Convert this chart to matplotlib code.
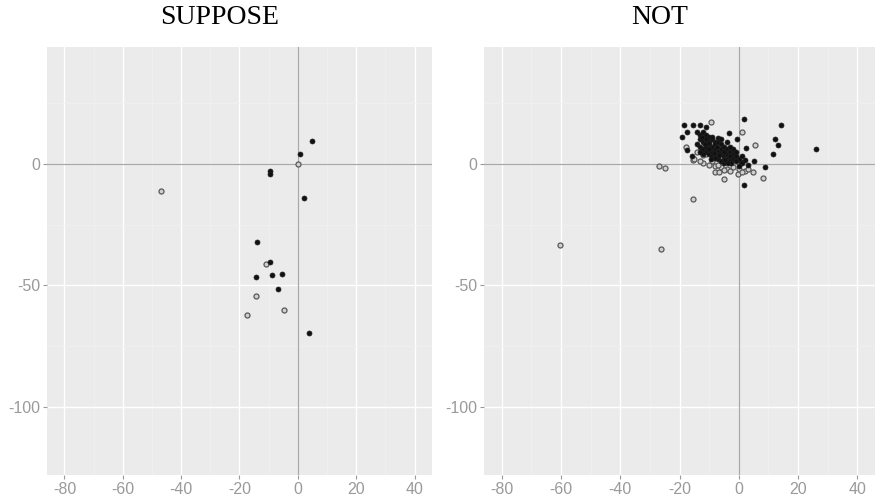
import numpy as np
import matplotlib.pyplot as plt

plt.rcParams['axes.unicode_minus'] = False
plt.rcParams['font.family'] = ['Liberation Sans', 'DejaVu Sans']

# SUPPOSE panel: filled (black) and open (grey) points
sup_fill_x = [4.8, 0.9, -9.4, -9.4, 2.2, -14.0, -9.4, -14.4, -8.8, -5.4, -6.8, 3.8]
sup_fill_y = [9.2, 4.1, -2.9, -4.1, -13.9, -32.2, -40.6, -46.5, -45.7, -45.5, -51.7, -69.7]
sup_open_x = [0.0, -47.0, -10.9, -14.5, -17.5, -4.8]
sup_open_y = [0.0, -11.2, -41.2, -54.3, -62.3, -60.2]

# NOT panel
not_fill_x = [1.8, 14.3, 26.1, -18.5, -15.4, -13.2, -11.0, -17.3, -19.1, -3.3, -0.7,
              2.5, 12.3, 13.3, 11.6, 5.0, 9.0, 1.9, -17.5, -15.9, 0.9,
              -14, -13, -12, -11, -10, -13, -12, -11, -10, -9, -8, -14, -13, -12,
              -11, -10, -9, -8, -7, -6, -11, -10, -9, -8, -7, -6, -5, -4, -12, -9,
              -8, -7, -6, -5, -4, -3, -2, -7, -6, -5, -4, -3, -2, -1, 0, -3, -1,
              1, -5, -9, -7, -4, -6, -5, -8, -10, -13, -2, -3, -1, 1, 2, 3, 0,
              -12.5, -10.5, -7.5, -6.5, -4.5, -2.5, -9.5, -11.5, -8.5, -3.5]
not_fill_y = [18.2, 16.0, 6.0, 16.0, 15.8, 15.8, 15.1, 13.2, 11.0, 12.8, 10.2,
              6.3, 10.0, 7.8, 4.0, 1.2, -1.4, -8.9, 5.5, 3.0, 0.9,
              13, 12, 13, 12, 11, 10, 9, 10, 9, 10, 9, 8, 7, 6,
              7, 8, 7, 8, 9, 8, 5, 4, 5, 6, 5, 6, 7, 6, 4, 3,
              4, 3, 4, 3, 4, 5, 4, 2, 1, 2, 2, 3, 2, 3, 2, 1, 1,
              0.5, 0.5, 11, 10.5, 9, 10, 5, 2.5, 6, 5, 6, 7, 5, 3, 1.5, -0.5, -1,
              11, 8.5, 7, 3.5, 1.5, 0.5, 2, 8, 4.5, 0.2]
not_open_x = [-9.4, 1.2, 5.5, 8.1, -15.6, -26.9, -24.8, -17.9, -15.6, -8.1, -6.8,
              -5.1, -0.4, 4.7, -12.0, -60.3, -26.3, -10, -8, -6, -4, -2, 0, 2,
              3, -13, -15, -14, -12, -3, 1, -9, -7, -11, -5, -8.3]
not_open_y = [17.2, 12.9, 7.5, -5.8, -14.4, -1.0, -1.9, 6.7, 1.6, -3.6, -3.6,
              -6.3, -4.1, -3.4, 0.3, -33.3, -35.0, -0.5, -1, -1.5, -2, -1.5, -2, -3,
              -2, 1, 2, 5, 3.5, -3, -3.5, 1, -0.5, 4, -2.5, 5.5]

xticks = [-80, -60, -40, -20, 0, 20, 40]
yticks = [-100, -50, 0]

fig = plt.figure(figsize=(8.76, 5), dpi=100)
ax1 = fig.add_axes([47/876, 25/500, 385/876, 428/500])
ax2 = fig.add_axes([484/876, 25/500, 391/876, 428/500])

panels = [(ax1, sup_fill_x, sup_fill_y, sup_open_x, sup_open_y),
          (ax2, not_fill_x, not_fill_y, not_open_x, not_open_y)]

for ax, fx, fy, ox, oy in panels:
    ax.set_facecolor('#ebebeb')
    ax.set_xlim(-86, 46)
    ax.set_ylim(-128, 48)
    ax.set_xticks(xticks)
    ax.set_yticks(yticks)
    ax.set_xticks([-70, -50, -30, -10, 10, 30], minor=True)
    ax.set_yticks([-75, -25, 25], minor=True)
    ax.grid(which='major', color='white', linewidth=1.0)
    ax.grid(which='minor', color='#f1f1f1', linewidth=0.5)
    ax.set_axisbelow(True)
    for s in ax.spines.values():
        s.set_visible(False)
    ax.tick_params(which='major', colors='#9a9a9a', labelsize=11.5, length=3,
                   width=0.8, pad=2)
    ax.tick_params(which='minor', length=0)
    ax.axhline(0, color='#a8a8a8', linewidth=0.9, zorder=1)
    ax.axvline(0, color='#a8a8a8', linewidth=0.9, zorder=1)
    ax.scatter(ox, oy, s=13, facecolor='#d0d0d0', edgecolor='#585858', linewidth=0.9, zorder=3)
    ax.scatter(fx, fy, s=13, color='#111111', edgecolor='#222222', linewidth=0.5, zorder=4)

fig.text(220/876, 1 - 18/500, 'SUPPOSE', family='Liberation Serif', fontsize=20,
         ha='center', va='center')
fig.text(660/876, 1 - 18/500, 'NOT', family='Liberation Serif', fontsize=20,
         ha='center', va='center')

fig.savefig('out.png', dpi=100)
